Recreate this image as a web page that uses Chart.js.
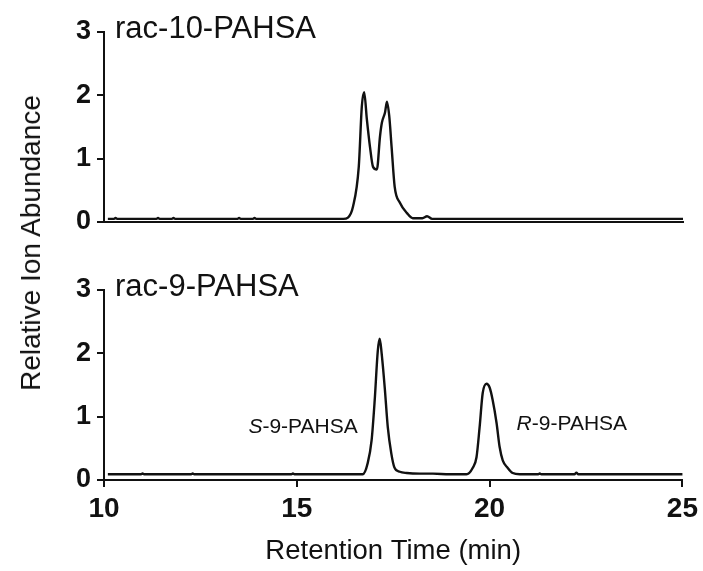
<!DOCTYPE html>
<html>
<head>
<meta charset="utf-8">
<script src="https://cdn.jsdelivr.net/npm/chart.js@4/dist/chart.umd.min.js"></script>
<style>
  html, body { margin: 0; padding: 0; background: #fff; }
  #wrap { position: relative; width: 703px; height: 571px; overflow: hidden; }
  #top { position: absolute; left: 0; top: 0; }
  #bot { position: absolute; left: 0; top: 250px; }
  #ytitle {
    position: absolute; left: 31px; top: 243px; white-space: nowrap;
    font: 28px "Liberation Sans", Arial, sans-serif; color: #111;
    transform: translate(-50%, -50%) rotate(-90deg);
  }
</style>
</head>
<body>
<div id="wrap">
  <canvas id="top" width="703" height="250"></canvas>
  <canvas id="bot" width="703" height="321"></canvas>
  <div id="ytitle">Relative Ion Abundance</div>
</div>
<script>
// ── data ──────────────────────────────────────────────────────────────────
const xTicks = [10, 15, 20, 25];
const yTicks = [0, 1, 2, 3];

// rac-10-PAHSA trace
const t10 = [10.1, 10.26, 10.3, 10.34, 11.36, 11.4, 11.44, 11.76, 11.8, 11.84, 13.46, 13.5, 13.54, 13.86, 13.9, 13.94,
  16.2, 16.32, 16.45, 16.6, 16.68, 16.74, 16.81, 16.89, 16.97, 17.07, 17.15, 17.2, 17.28, 17.33, 17.39, 17.45,
  17.53, 17.67, 17.85, 18.0, 18.25, 18.37, 18.5, 25.1];
const a10 = [0.05, 0.05, 0.065, 0.05, 0.05, 0.065, 0.05, 0.05, 0.065, 0.05, 0.05, 0.065, 0.05, 0.05, 0.065, 0.05,
  0.05, 0.07, 0.24, 0.87, 1.83, 2.05, 1.62, 1.19, 0.87, 0.83, 1.35, 1.57, 1.73, 1.9, 1.67, 1.19,
  0.56, 0.30, 0.14, 0.06, 0.06, 0.09, 0.05, 0.05];

// rac-9-PAHSA trace
const t9 = [10.1, 10.96, 11.0, 11.04, 12.26, 12.3, 12.34, 14.86, 14.9, 14.94, 16.71, 16.84, 16.94, 17.02, 17.1,
  17.15, 17.2, 17.28, 17.36, 17.45, 17.53, 17.67, 17.85, 18.19, 18.53, 18.96, 19.4, 19.56, 19.66, 19.74,
  19.82, 19.92, 20.0, 20.08, 20.18, 20.26, 20.34, 20.47, 20.6, 20.78, 21.26, 21.3, 21.34, 22.2, 22.25, 22.3, 25.1];
const a9 = [0.09, 0.09, 0.105, 0.09, 0.09, 0.105, 0.09, 0.09, 0.105, 0.09, 0.09, 0.27, 0.63, 1.26, 2.04,
  2.23, 2.0, 1.46, 0.83, 0.42, 0.2, 0.13, 0.11, 0.1, 0.1, 0.09, 0.09, 0.19, 0.36, 0.83,
  1.37, 1.52, 1.46, 1.26, 0.9, 0.52, 0.31, 0.19, 0.11, 0.09, 0.09, 0.105, 0.09, 0.09, 0.115, 0.09, 0.09];

const panelTitles = ["rac-10-PAHSA", "rac-9-PAHSA"];
const peakLabels = [
  { italic: "S", rest: "-9-PAHSA", x: 16.58, y: 0.74, align: "right" },
  { italic: "R", rest: "-9-PAHSA", x: 20.7, y: 0.79, align: "left" },
];

const FONT = '"Liberation Sans", Arial, sans-serif';
const pts = (xs, ys) => xs.map((x, i) => ({ x, y: ys[i] }));

// draws panel title + optional peak labels
const textPlugin = {
  id: "texts",
  afterDraw(chart, args, opts) {
    const { ctx, chartArea, scales } = chart;
    ctx.save();
    ctx.fillStyle = "#111";
    ctx.textBaseline = "alphabetic";
    ctx.textAlign = "left";
    ctx.font = "31px " + FONT;
    ctx.fillText(opts.title, chartArea.left + 11, chartArea.top + 6);
    (opts.peaks || []).forEach((p) => {
      ctx.font = "italic 21px " + FONT;
      const wi = ctx.measureText(p.italic).width;
      ctx.font = "21px " + FONT;
      const wr = ctx.measureText(p.rest).width;
      let x = scales.x.getPixelForValue(p.x);
      const y = scales.y.getPixelForValue(p.y);
      if (p.align === "right") x -= wi + wr;
      ctx.font = "italic 21px " + FONT;
      ctx.fillText(p.italic, x, y);
      ctx.font = "21px " + FONT;
      ctx.fillText(p.rest, x + wi, y);
    });
    ctx.restore();
  },
};

function makeChart(id, data, opts) {
  const canvasH = $(id).height;
  return new Chart($(id).getContext("2d"), {
    type: "line",
    data: { datasets: [{ data, borderColor: "#111", borderWidth: 2.4, pointRadius: 0,
      cubicInterpolationMode: "monotone", fill: false }] },
    plugins: [textPlugin],
    options: {
      responsive: false, animation: false, parsing: false,
      layout: { padding: { top: opts.top, right: 20, left: 0, bottom: 0 } },
      plugins: { legend: { display: false }, tooltip: { enabled: false },
        texts: { title: opts.title, peaks: opts.peaks } },
      scales: {
        x: { type: "linear", min: 10, max: 25,
          afterBuildTicks: (s) => { s.ticks = xTicks.map((v) => ({ value: v })); },
          afterFit: (s) => { s.height = canvasH - opts.bottom; },
          ticks: { display: opts.xLabels, color: "#111", padding: 5, font: { family: FONT, size: 28, weight: "bold" } },
          grid: { drawOnChartArea: false, drawTicks: opts.xLabels, tickLength: 7, color: "#111", lineWidth: 2 },
          border: { color: "#111", width: 2 },
          title: { display: opts.xLabels, text: "Retention Time (min)", color: "#111",
            font: { family: FONT, size: 27.5 }, padding: { top: 0, bottom: 3 } } },
        y: { min: 0, max: 3,
          afterBuildTicks: (s) => { s.ticks = yTicks.map((v) => ({ value: v })); },
          afterFit: (s) => { s.width = 104; },
          ticks: { color: "#111", padding: 6, font: { family: FONT, size: 27, weight: "bold" } },
          grid: { drawOnChartArea: false, tickLength: 7, color: "#111", lineWidth: 2 },
          border: { color: "#111", width: 2 } },
      },
    },
  });
}

const $ = (id) => document.getElementById(id);

makeChart("top", pts(t10, a10), { top: 32, bottom: 222, xLabels: false, title: panelTitles[0] });
makeChart("bot", pts(t9, a9), { top: 40, bottom: 230, xLabels: true, title: panelTitles[1], peaks: peakLabels });
</script>
</body>
</html>
